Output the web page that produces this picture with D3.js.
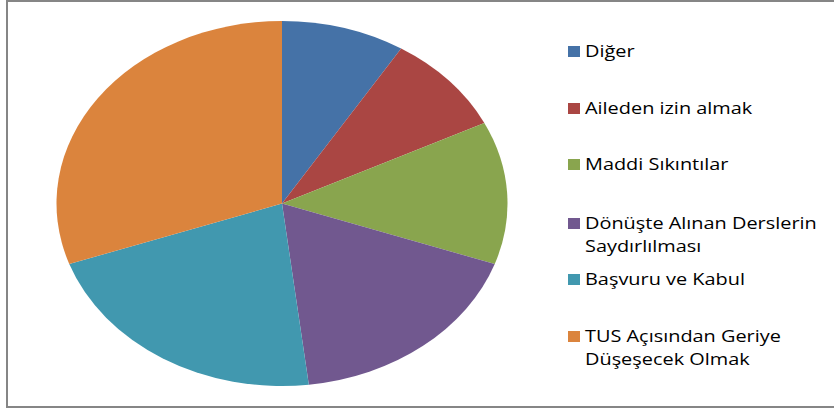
<!DOCTYPE html>
<html>
<head>
<meta charset="utf-8">
<script src="https://cdn.jsdelivr.net/npm/d3@7"></script>
<style>
  body { margin: 0; background: #fff; }
  svg { display: block; }
</style>
</head>
<body>
<script>
var width = 834, height = 412;

// chart data
var categories = ['Diğer', 'Aileden izin almak', 'Maddi Sıkıntılar',
    'Dönüşte Alınan Derslerin Saydırlılması', 'Başvuru ve Kabul',
    'TUS Açısından Geriye Düşeşecek Olmak'];
var values = [7, 7, 10, 14, 17, 24];
// legend lines as they wrap in the picture
var legendLines = [['Diğer'], ['Aileden izin almak'], ['Maddi Sıkıntılar'],
    ['Dönüşte Alınan Derslerin', 'Saydırlılması'], ['Başvuru ve Kabul'],
    ['TUS Açısından Geriye', 'Düşeşecek Olmak']];
var colors = ['#4572A7', '#AA4643', '#89A54E', '#71588F', '#4198AF', '#DB843D'];

var svg = d3.select('body')
    .append('svg')
    .attr('width', width)
    .attr('height', height);

svg.append('rect')
    .attr('width', width).attr('height', height)
    .attr('fill', '#fff');

// outer frame (right edge falls outside the picture)
svg.append('path')
    .attr('d', 'M' + (width + 5) + ',1 H7 V407 H' + (width + 5))
    .attr('fill', 'none')
    .attr('stroke', '#868686')
    .attr('stroke-width', 2);

// the pie is drawn as an ellipse
var cx = 282, cy = 203.5, rx = 225.5, ry = 182.5;

var pie = d3.pie().sort(null);
var arc = d3.arc().innerRadius(0).outerRadius(ry);

var color = d3.scaleOrdinal().domain(categories).range(colors);

var pieG = svg.append('g')
    .attr('transform', 'translate(' + cx + ',' + cy + ') scale(' + (rx / ry) + ',1)');

pieG.selectAll('path')
    .data(pie(values))
    .enter()
    .append('path')
    .attr('d', arc)
    .attr('fill', function (d, i) { return color(categories[i]); });

// legend
var legendY = [51, 108, 164, 223, 279, 336];
var legend = svg.append('g').attr('transform', 'translate(568,0)');

var items = legend.selectAll('g.item')
    .data(categories)
    .enter()
    .append('g')
    .attr('class', 'item')
    .attr('transform', function (d, i) { return 'translate(0,' + legendY[i] + ')'; });

items.append('rect')
    .attr('x', 0).attr('y', -5)
    .attr('width', 12).attr('height', 11)
    .attr('fill', function (d) { return color(d); });

var texts = items.append('text')
    .attr('font-family', 'Open Sans, sans-serif')
    .attr('font-size', 16)
    .attr('fill', '#000');

texts.selectAll('tspan')
    .data(function (d, i) { return legendLines[i]; })
    .enter()
    .append('tspan')
    .attr('x', 17)
    .attr('y', function (d, j) { return 6 + j * 23; })
    .text(function (d) { return d; });

// stretch text horizontally to match the wide look of the original
var longest = texts.filter(function (d, i) { return i === 3; })
    .select('tspan').node().getComputedTextLength();
var sx = 232 / longest;
texts.attr('transform', 'translate(17,0) scale(' + sx + ',1) translate(-17,0)');
</script>
</body>
</html>
